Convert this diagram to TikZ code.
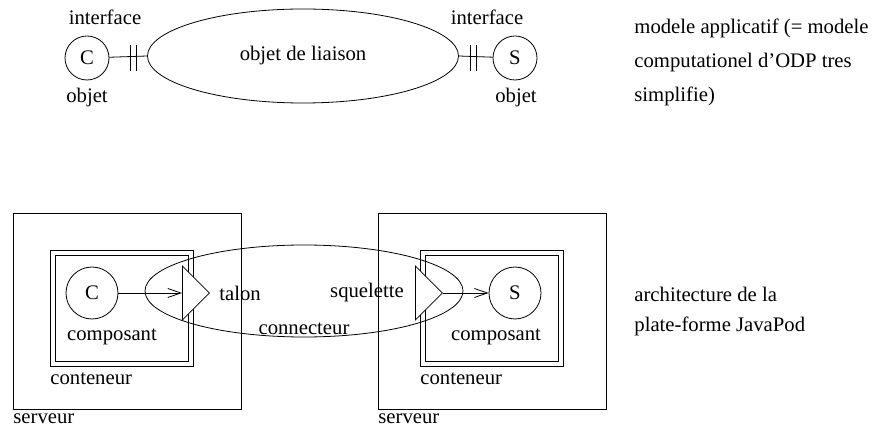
\documentclass[tikz,border=0pt]{standalone}
\usepackage{fontspec}
\setmainfont{Liberation Serif}
\usetikzlibrary{arrows.meta,shapes.geometric}
\begin{document}
\begin{tikzpicture}[x=1pt,y=-1pt,line width=0.8pt,
  txt/.style={inner sep=0pt,font=\fontsize{20.7}{25}\selectfont},
  obj/.style={circle,draw,minimum size=44pt,inner sep=0pt,font=\fontsize{20.7}{25}\selectfont},
  comp/.style={circle,draw,minimum size=52pt,inner sep=0pt,font=\fontsize{20.7}{25}\selectfont},
  lien/.style={ellipse,draw,inner sep=0pt,font=\fontsize{20.7}{25}\selectfont},
  boite/.style={draw,inner sep=0pt},
  stub/.style={draw,fill=white,isosceles triangle,isosceles triangle apex angle=90,minimum height=27pt,inner sep=0pt},
  fl/.style={-{Straight Barb[length=13pt,width=9pt,line width=0.8pt]}}
]
\useasboundingbox (0,0) rectangle (889,427);
% ---------- top ----------
\node[lien,minimum width=311pt,minimum height=94pt] (liaison) at (303,56) {objet de liaison};
\node[obj] (c1) at (87,58) {C};
\node[obj] (s1) at (515,58) {S};
\draw (c1) -- (liaison.west);
\draw (liaison.east) -- (s1);
\coordinate (b1) at (130,58); \coordinate (b2) at (136,58);
\coordinate (b3) at (470,58); \coordinate (b4) at (476,58);
\foreach \b in {b1,b2,b3,b4} \draw ([yshift=-13pt]\b) -- ([yshift=13pt]\b);
\node[txt] (if1) at (105,17) {interface};
\node[txt] (if2) at (487,17) {interface};
\node[txt] (o1) at (87,98) {objet};
\node[txt] (o2) at (516,98) {objet};
\node[txt,anchor=north west,align=left,font=\fontsize{20.7}{34}\selectfont] (t1) at (634,19) {modele applicatif (= modele\\computationel d'ODP tres\\simplifie)};
% ---------- bottom ----------
\node[boite,minimum width=228pt,minimum height=196pt] (srv1) at (127,311) {};
\node[boite,minimum width=228pt,minimum height=196pt] (srv2) at (492,311) {};
\node[boite,minimum width=143pt,minimum height=116pt] (cnt1o) at (121.5,308) {};
\node[boite,minimum width=133pt,minimum height=106pt] (cnt1i) at (121.5,308) {};
\node[boite,minimum width=143pt,minimum height=116pt] (cnt2o) at (491.5,308) {};
\node[boite,minimum width=133pt,minimum height=106pt] (cnt2i) at (491.5,308) {};
\node[txt,anchor=north west] (sv1) at (13,413) {serveur};
\node[txt,anchor=north west] (sv2) at (378,413) {serveur};
\node[txt,anchor=north west] (ct1) at (50,372) {conteneur};
\node[txt,anchor=north west] (ct2) at (420,372) {conteneur};
\node[comp] (c2) at (92,293) {C};
\node[comp] (s2) at (515,293) {S};
\node[txt] (cp1) at (112,337) {composant};
\node[txt] (cp2) at (496,337) {composant};
\node[lien,minimum width=318pt,minimum height=92pt] (conn) at (304,291) {};
\node[stub] (talon) at (182,293) [anchor=west] {};
\node[stub] (sq) at (415,293) [anchor=west] {};
\draw[fl] (c2) -- (talon.west);
\draw[fl] (sq.apex) -- (s2);
\node[txt] (lt) at (240,293) {talon};
\node[txt] (ls) at (367,293) {squelette};
\node[txt] (lc) at (304,329) {connecteur};
\node[txt,anchor=north west,align=left,font=\fontsize{20.7}{30}\selectfont] (t2) at (634,287) {architecture de la\\plate-forme JavaPod};
\end{tikzpicture}
\end{document}
